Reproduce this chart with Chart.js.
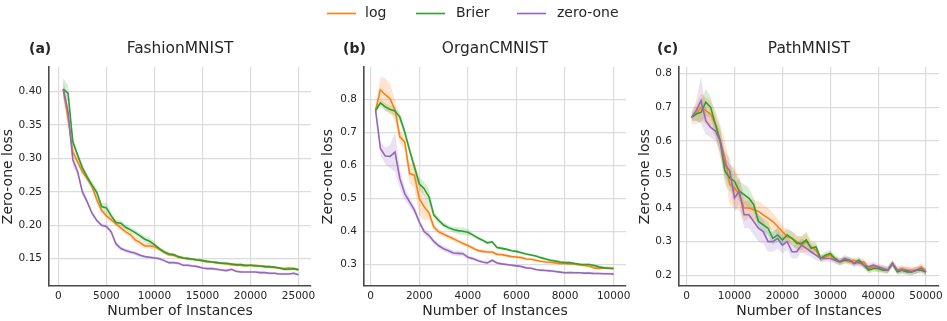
<!DOCTYPE html>
<html>
<head>
<meta charset="utf-8">
<script src="https://cdn.jsdelivr.net/npm/chart.js@4.4.1/dist/chart.umd.min.js"></script>
<style>
  html, body { margin: 0; padding: 0; background: #fff; }
  #wrap { position: relative; width: 947px; height: 321px; }
  #wrap canvas { position: absolute; left: 0; top: 0; }
</style>
</head>
<body>
<div id="wrap">
  <canvas id="panel-a" width="947" height="321"></canvas>
  <canvas id="panel-b" width="947" height="321"></canvas>
  <canvas id="panel-c" width="947" height="321"></canvas>
</div>
<script>
// ---- data ----
const seriesNames = ["log", "Brier", "zero-one"]

// (a) FashionMNIST
const fashionX = [500, 1000, 1500, 2000, 2500, 3000, 3500, 4000, 4500, 5000,
  5500, 6000, 6500, 7000, 7500, 8000, 8500, 9000, 9500, 10000,
  10500, 11000, 11500, 12000, 12500, 13000, 13500, 14000, 14500, 15000,
  15500, 16000, 16500, 17000, 17500, 18000, 18500, 19000, 19500, 20000,
  20500, 21000, 21500, 22000, 22500, 23000, 23500, 24000, 24500, 25000]
const fashionLog = [0.404, 0.360, 0.310, 0.295, 0.280, 0.270, 0.258, 0.238, 0.222, 0.214,
  0.208, 0.202, 0.196, 0.190, 0.186, 0.178, 0.174, 0.169, 0.169, 0.168,
  0.164, 0.160, 0.156, 0.155, 0.152, 0.151, 0.150, 0.149, 0.148, 0.147,
  0.145, 0.145, 0.144, 0.143, 0.142, 0.141, 0.140, 0.140, 0.139, 0.140,
  0.140, 0.139, 0.138, 0.137, 0.137, 0.136, 0.135, 0.136, 0.135, 0.134]
const fashionBrier = [0.404, 0.398, 0.325, 0.305, 0.286, 0.272, 0.260, 0.249, 0.228, 0.226,
  0.214, 0.204, 0.203, 0.197, 0.193, 0.189, 0.184, 0.179, 0.176, 0.171,
  0.165, 0.160, 0.157, 0.156, 0.153, 0.151, 0.150, 0.149, 0.148, 0.147,
  0.146, 0.145, 0.144, 0.143, 0.143, 0.142, 0.141, 0.141, 0.140, 0.140,
  0.139, 0.139, 0.138, 0.138, 0.137, 0.136, 0.134, 0.134, 0.135, 0.133]
const fashionZeroOne = [0.404, 0.370, 0.298, 0.280, 0.250, 0.235, 0.218, 0.207, 0.200, 0.198,
  0.190, 0.172, 0.165, 0.162, 0.160, 0.158, 0.155, 0.153, 0.152, 0.151,
  0.150, 0.147, 0.144, 0.144, 0.143, 0.140, 0.140, 0.139, 0.138, 0.136,
  0.135, 0.135, 0.134, 0.133, 0.132, 0.134, 0.131, 0.130, 0.130, 0.130,
  0.130, 0.129, 0.129, 0.128, 0.128, 0.127, 0.127, 0.127, 0.128, 0.126]
const fashionLogSpread = [0.016, 0.010, 0.006, 0.005, 0.005, 0.005, 0.004, 0.004, 0.004, 0.004,
  0.004, 0.004, 0.004, 0.004, 0.004, 0.005, 0.005, 0.004, 0.004, 0.004,
  0.003, 0.003, 0.003, 0.003, 0.002, 0.002, 0.002, 0.002, 0.002, 0.002,
  0.002, 0.002, 0.002, 0.002, 0.002, 0.002, 0.002, 0.002, 0.002, 0.002,
  0.002, 0.002, 0.002, 0.002, 0.002, 0.002, 0.002, 0.002, 0.002, 0.002]
const fashionBrierSpread = [0.016, 0.012, 0.007, 0.005, 0.005, 0.005, 0.006, 0.006, 0.005, 0.008,
  0.005, 0.004, 0.004, 0.004, 0.004, 0.004, 0.004, 0.005, 0.005, 0.004,
  0.003, 0.003, 0.003, 0.002, 0.002, 0.002, 0.002, 0.002, 0.002, 0.002,
  0.002, 0.002, 0.002, 0.002, 0.002, 0.002, 0.002, 0.002, 0.002, 0.002,
  0.002, 0.002, 0.002, 0.002, 0.002, 0.002, 0.002, 0.002, 0.002, 0.002]
const fashionZeroOneSpread = [0.012, 0.010, 0.008, 0.006, 0.005, 0.004, 0.004, 0.003, 0.003, 0.003,
  0.003, 0.003, 0.003, 0.003, 0.003, 0.003, 0.003, 0.002, 0.002, 0.002,
  0.002, 0.002, 0.002, 0.002, 0.002, 0.002, 0.002, 0.002, 0.002, 0.002,
  0.002, 0.002, 0.002, 0.002, 0.002, 0.002, 0.002, 0.002, 0.002, 0.002,
  0.002, 0.002, 0.002, 0.002, 0.002, 0.002, 0.002, 0.002, 0.002, 0.002]
const fashionXTicks = [0, 5000, 10000, 15000, 20000, 25000]
const fashionYTicks = [0.15, 0.20, 0.25, 0.30, 0.35, 0.40]

// (b) OrganCMNIST
const organX = [200, 400, 600, 800, 1000, 1200, 1400, 1600, 1800, 2000,
  2200, 2400, 2600, 2800, 3000, 3200, 3400, 3600, 3800, 4000,
  4200, 4400, 4600, 4800, 5000, 5200, 5400, 5600, 5800, 6000,
  6200, 6400, 6600, 6800, 7000, 7200, 7400, 7600, 7800, 8000,
  8200, 8400, 8600, 8800, 9000, 9200, 9400, 9600, 9800, 10000]
const organLog = [0.768, 0.830, 0.815, 0.803, 0.768, 0.687, 0.672, 0.576, 0.571, 0.500,
  0.475, 0.457, 0.414, 0.399, 0.392, 0.385, 0.378, 0.371, 0.364, 0.358,
  0.350, 0.343, 0.340, 0.338, 0.338, 0.331, 0.330, 0.327, 0.324, 0.323,
  0.321, 0.317, 0.316, 0.313, 0.310, 0.308, 0.307, 0.305, 0.303, 0.303,
  0.302, 0.302, 0.299, 0.297, 0.295, 0.290, 0.288, 0.290, 0.289, 0.288]
const organBrier = [0.768, 0.790, 0.778, 0.770, 0.766, 0.747, 0.702, 0.647, 0.596, 0.545,
  0.530, 0.505, 0.450, 0.434, 0.420, 0.412, 0.406, 0.403, 0.401, 0.398,
  0.390, 0.381, 0.374, 0.366, 0.369, 0.352, 0.349, 0.346, 0.342, 0.340,
  0.336, 0.332, 0.329, 0.326, 0.321, 0.317, 0.313, 0.311, 0.308, 0.306,
  0.306, 0.303, 0.301, 0.300, 0.300, 0.297, 0.293, 0.290, 0.289, 0.288]
const organZeroOne = [0.768, 0.652, 0.629, 0.628, 0.641, 0.561, 0.515, 0.490, 0.465, 0.429,
  0.400, 0.388, 0.370, 0.357, 0.348, 0.342, 0.335, 0.334, 0.333, 0.322,
  0.318, 0.312, 0.308, 0.305, 0.313, 0.305, 0.302, 0.300, 0.298, 0.296,
  0.294, 0.290, 0.289, 0.285, 0.283, 0.282, 0.281, 0.279, 0.277, 0.275,
  0.276, 0.275, 0.275, 0.274, 0.274, 0.273, 0.273, 0.272, 0.272, 0.271]
const organLogSpread = [0.010, 0.040, 0.050, 0.045, 0.030, 0.020, 0.020, 0.030, 0.040, 0.050,
  0.040, 0.020, 0.010, 0.008, 0.007, 0.006, 0.006, 0.006, 0.006, 0.006,
  0.005, 0.005, 0.005, 0.005, 0.005, 0.004, 0.004, 0.004, 0.004, 0.004,
  0.004, 0.004, 0.004, 0.004, 0.004, 0.004, 0.004, 0.004, 0.004, 0.004,
  0.004, 0.004, 0.004, 0.004, 0.004, 0.004, 0.004, 0.004, 0.004, 0.004]
const organBrierSpread = [0.010, 0.010, 0.012, 0.012, 0.015, 0.015, 0.012, 0.015, 0.015, 0.020,
  0.020, 0.025, 0.010, 0.008, 0.008, 0.008, 0.008, 0.010, 0.012, 0.010,
  0.006, 0.005, 0.005, 0.005, 0.005, 0.005, 0.004, 0.004, 0.004, 0.004,
  0.004, 0.004, 0.004, 0.004, 0.004, 0.004, 0.004, 0.004, 0.004, 0.004,
  0.004, 0.004, 0.004, 0.004, 0.004, 0.004, 0.004, 0.004, 0.004, 0.004]
const organZeroOneSpread = [0.010, 0.020, 0.025, 0.035, 0.060, 0.030, 0.020, 0.015, 0.012, 0.010,
  0.010, 0.010, 0.008, 0.008, 0.008, 0.008, 0.008, 0.008, 0.008, 0.006,
  0.005, 0.005, 0.005, 0.005, 0.005, 0.004, 0.004, 0.004, 0.004, 0.004,
  0.004, 0.004, 0.004, 0.004, 0.004, 0.004, 0.004, 0.004, 0.004, 0.004,
  0.004, 0.004, 0.004, 0.004, 0.004, 0.004, 0.004, 0.004, 0.004, 0.004]
const organXTicks = [0, 2000, 4000, 6000, 8000, 10000]
const organYTicks = [0.3, 0.4, 0.5, 0.6, 0.7, 0.8]

// (c) PathMNIST
const pathX = [1000, 2000, 3000, 4000, 5000, 6000, 7000, 8000, 9000, 10000,
  11000, 12000, 13000, 14000, 15000, 16000, 17000, 18000, 19000, 20000,
  21000, 22000, 23000, 24000, 25000, 26000, 27000, 28000, 29000, 30000,
  31000, 32000, 33000, 34000, 35000, 36000, 37000, 38000, 39000, 40000,
  41000, 42000, 43000, 44000, 45000, 46000, 47000, 48000, 49000, 50000]
const pathLog = [0.670, 0.680, 0.700, 0.690, 0.680, 0.650, 0.600, 0.550, 0.470, 0.460,
  0.440, 0.400, 0.400, 0.395, 0.390, 0.380, 0.370, 0.360, 0.345, 0.330,
  0.315, 0.310, 0.300, 0.290, 0.300, 0.285, 0.275, 0.250, 0.255, 0.260,
  0.245, 0.240, 0.245, 0.240, 0.245, 0.235, 0.240, 0.220, 0.225, 0.220,
  0.220, 0.215, 0.235, 0.215, 0.220, 0.215, 0.215, 0.215, 0.225, 0.210]
const pathBrier = [0.670, 0.680, 0.685, 0.715, 0.700, 0.650, 0.600, 0.510, 0.490, 0.480,
  0.450, 0.440, 0.430, 0.410, 0.360, 0.350, 0.340, 0.310, 0.320, 0.305,
  0.320, 0.310, 0.295, 0.295, 0.305, 0.280, 0.285, 0.250, 0.260, 0.265,
  0.250, 0.240, 0.245, 0.245, 0.235, 0.245, 0.230, 0.215, 0.220, 0.220,
  0.215, 0.215, 0.235, 0.210, 0.215, 0.210, 0.210, 0.215, 0.215, 0.210]
const pathZeroOne = [0.670, 0.690, 0.720, 0.660, 0.640, 0.630, 0.600, 0.530, 0.510, 0.430,
  0.450, 0.380, 0.380, 0.360, 0.340, 0.330, 0.300, 0.300, 0.310, 0.290,
  0.300, 0.270, 0.270, 0.290, 0.280, 0.270, 0.260, 0.250, 0.250, 0.250,
  0.245, 0.240, 0.250, 0.245, 0.235, 0.240, 0.230, 0.225, 0.230, 0.225,
  0.220, 0.215, 0.235, 0.215, 0.215, 0.215, 0.210, 0.215, 0.220, 0.210]
const pathLogSpread = [0.020, 0.030, 0.040, 0.040, 0.040, 0.040, 0.050, 0.050, 0.060, 0.060,
  0.050, 0.040, 0.030, 0.030, 0.030, 0.030, 0.030, 0.025, 0.025, 0.020,
  0.020, 0.020, 0.020, 0.025, 0.030, 0.020, 0.015, 0.010, 0.010, 0.010,
  0.010, 0.010, 0.010, 0.010, 0.010, 0.010, 0.010, 0.010, 0.010, 0.010,
  0.010, 0.010, 0.010, 0.010, 0.010, 0.010, 0.010, 0.010, 0.012, 0.010]
const pathBrierSpread = [0.010, 0.020, 0.030, 0.040, 0.030, 0.030, 0.040, 0.040, 0.040, 0.030,
  0.030, 0.030, 0.030, 0.020, 0.020, 0.020, 0.020, 0.020, 0.020, 0.020,
  0.020, 0.020, 0.020, 0.020, 0.020, 0.015, 0.015, 0.010, 0.010, 0.010,
  0.010, 0.010, 0.010, 0.010, 0.010, 0.010, 0.010, 0.010, 0.010, 0.010,
  0.010, 0.010, 0.010, 0.010, 0.010, 0.010, 0.010, 0.010, 0.010, 0.010]
const pathZeroOneSpread = [0.010, 0.030, 0.070, 0.040, 0.030, 0.030, 0.030, 0.040, 0.040, 0.040,
  0.040, 0.040, 0.040, 0.040, 0.040, 0.035, 0.030, 0.030, 0.030, 0.025,
  0.025, 0.020, 0.020, 0.020, 0.020, 0.015, 0.015, 0.010, 0.010, 0.010,
  0.010, 0.010, 0.010, 0.010, 0.010, 0.010, 0.010, 0.010, 0.010, 0.010,
  0.010, 0.010, 0.010, 0.010, 0.010, 0.010, 0.010, 0.010, 0.010, 0.010]
const pathXTicks = [0, 10000, 20000, 30000, 40000, 50000]
const pathYTicks = [0.2, 0.3, 0.4, 0.5, 0.6, 0.7, 0.8]

// ---- styling ----
const FONT = '"DejaVu Sans", sans-serif'
const COLORS = ["#ff7f0e", "#2ca02c", "#9467bd"]
const BAND_ALPHA = 0.2
const TEXT_COLOR = "#262626"
const SPINE_COLOR = "#4a4a4a"
const GRID_COLOR = "#dcdcdc"
const AREA_TOP = 67
const AREA_BOTTOM = 286
const W = 947
const H = 321

function hexToRgba(hex, a) {
  const n = parseInt(hex.slice(1), 16)
  return `rgba(${(n >> 16) & 255}, ${(n >> 8) & 255}, ${n & 255}, ${a})`
}

const panels = [
  {
    canvas: "panel-a", letter: "(a)", title: "FashionMNIST", letterX: 29,
    xs: fashionX, lines: [fashionLog, fashionBrier, fashionZeroOne],
    spreads: [fashionLogSpread, fashionBrierSpread, fashionZeroOneSpread],
    xTicks: fashionXTicks, yTicks: fashionYTicks, decimals: 2,
    xMin: -980, xMax: 26300, yMin: 0.109, yMax: 0.437,
    left: 49, right: 311, yWidth: 49,
  },
  {
    canvas: "panel-b", letter: "(b)", title: "OrganCMNIST", letterX: 343,
    xs: organX, lines: [organLog, organBrier, organZeroOne],
    spreads: [organLogSpread, organBrierSpread, organZeroOneSpread],
    xTicks: organXTicks, yTicks: organYTicks, decimals: 1,
    xMin: -276, xMax: 10510, yMin: 0.235, yMax: 0.899,
    left: 364, right: 626, yWidth: 44,
  },
  {
    canvas: "panel-c", letter: "(c)", title: "PathMNIST", letterX: 657,
    xs: pathX, lines: [pathLog, pathBrier, pathZeroOne],
    spreads: [pathLogSpread, pathBrierSpread, pathZeroOneSpread],
    xTicks: pathXTicks, yTicks: pathYTicks, decimals: 1,
    xMin: -1600, xMax: 52700, yMin: 0.168, yMax: 0.82,
    left: 679, right: 941, yWidth: 42,
  },
]

const legendPlugin = {
  id: "figLegend",
  afterDraw(chart) {
    const ctx = chart.ctx
    const items = [
      { x: 327, tx: 365 },
      { x: 416, tx: 456 },
      { x: 517, tx: 557 },
    ]
    ctx.save()
    ctx.font = `14px ${FONT}`
    ctx.textBaseline = "middle"
    ctx.textAlign = "left"
    items.forEach((it, i) => {
      ctx.strokeStyle = COLORS[i]
      ctx.lineWidth = 1.6
      ctx.beginPath()
      ctx.moveTo(it.x, 13.5)
      ctx.lineTo(it.x + 29, 13.5)
      ctx.stroke()
      ctx.fillStyle = TEXT_COLOR
      ctx.fillText(seriesNames[i], it.tx, 13)
    })
    ctx.restore()
  },
}

function titlePlugin(p) {
  return {
    id: "panelTitle",
    afterDraw(chart) {
      const ctx = chart.ctx
      const area = chart.chartArea
      ctx.save()
      ctx.fillStyle = TEXT_COLOR
      ctx.textBaseline = "alphabetic"
      ctx.textAlign = "left"
      ctx.font = `bold 14px ${FONT}`
      ctx.fillText(p.letter, p.letterX, 52.5)
      ctx.textAlign = "center"
      ctx.font = `15.4px ${FONT}`
      ctx.fillText(p.title, (area.left + area.right) / 2, 52.5)
      ctx.restore()
    },
  }
}

function buildDatasets(p) {
  const lineSets = []
  const bandSets = []
  // matplotlib draws later series on top; Chart.js draws index 0 last
  for (let i = 2; i >= 0; i--) {
    lineSets.push({
      label: seriesNames[i],
      data: p.xs.map((x, k) => ({ x, y: p.lines[i][k] })),
      borderColor: COLORS[i],
      borderWidth: 1.6,
      pointRadius: 0,
      fill: false,
      tension: 0,
    })
  }
  for (let i = 0; i < 3; i++) {
    bandSets.push({
      label: seriesNames[i] + " upper",
      data: p.xs.map((x, k) => ({ x, y: p.lines[i][k] + p.spreads[i][k] })),
      borderWidth: 0,
      borderColor: "rgba(0,0,0,0)",
      backgroundColor: hexToRgba(COLORS[i], BAND_ALPHA),
      pointRadius: 0,
      fill: "+1",
      tension: 0,
    })
    bandSets.push({
      label: seriesNames[i] + " lower",
      data: p.xs.map((x, k) => ({ x, y: p.lines[i][k] - p.spreads[i][k] })),
      borderWidth: 0,
      borderColor: "rgba(0,0,0,0)",
      pointRadius: 0,
      fill: false,
      tension: 0,
    })
  }
  return lineSets.concat(bandSets)
}

panels.forEach((p, idx) => {
  const plugins = [titlePlugin(p)]
  if (idx === 0) plugins.push(legendPlugin)

  new Chart(document.getElementById(p.canvas), {
    type: "line",
    data: { datasets: buildDatasets(p) },
    plugins: plugins,
    options: {
      responsive: false,
      animation: false,
      events: [],
      layout: {
        padding: { left: p.left - p.yWidth, right: W - p.right, top: AREA_TOP, bottom: 0 },
      },
      plugins: {
        legend: { display: false },
        tooltip: { enabled: false },
        filler: { propagate: false },
      },
      scales: {
        x: {
          type: "linear",
          min: p.xMin,
          max: p.xMax,
          afterBuildTicks: (s) => { s.ticks = p.xTicks.map((v) => ({ value: v })) },
          afterFit: (s) => { s.height = H - AREA_BOTTOM },
          ticks: {
            callback: (v) => String(v),
            font: { family: FONT, size: 10.5 },
            color: TEXT_COLOR,
            padding: 4,
            maxRotation: 0,
            autoSkip: false,
          },
          grid: { color: GRID_COLOR, lineWidth: 1.2, drawTicks: false },
          border: { color: SPINE_COLOR, width: 1.6 },
          title: {
            display: true,
            text: "Number of Instances",
            font: { family: FONT, size: 14 },
            color: TEXT_COLOR,
            padding: { top: 0, bottom: 1 },
          },
        },
        y: {
          type: "linear",
          min: p.yMin,
          max: p.yMax,
          afterBuildTicks: (s) => { s.ticks = p.yTicks.map((v) => ({ value: v })) },
          afterFit: (s) => { s.width = p.yWidth },
          ticks: {
            callback: (v) => Number(v).toFixed(p.decimals),
            font: { family: FONT, size: 10.5 },
            color: TEXT_COLOR,
            padding: 7,
            autoSkip: false,
          },
          grid: { color: GRID_COLOR, lineWidth: 1.2, drawTicks: false },
          border: { color: SPINE_COLOR, width: 1.6 },
          title: {
            display: true,
            text: "Zero-one loss",
            font: { family: FONT, size: 14 },
            color: TEXT_COLOR,
            padding: { top: 0, bottom: 0 },
          },
        },
      },
    },
  })
})
</script>
</body>
</html>
